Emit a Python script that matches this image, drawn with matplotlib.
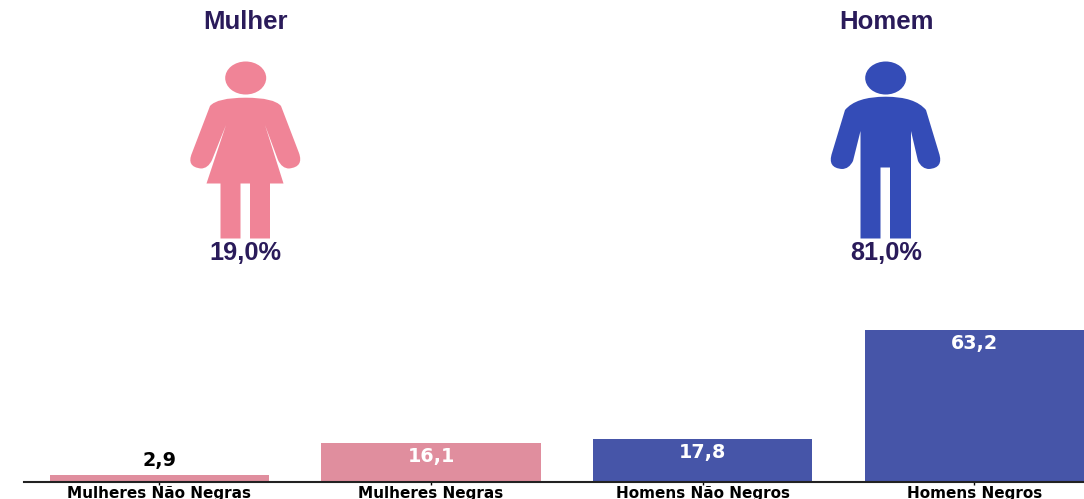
import matplotlib
matplotlib.use("Agg")
import matplotlib.pyplot as plt
import numpy as np
from matplotlib.patches import Ellipse, PathPatch
from matplotlib.path import Path

categorias = ['Mulheres Não Negras', 'Mulheres Negras', 'Homens Não Negros', 'Homens Negros']
valores = [2.9, 16.1, 17.8, 63.2]
rotulos = ['2,9', '16,1', '17,8', '63,2']
generos = ['Mulher', 'Homem']
percentuais = ['19,0%', '81,0%']

cor_mulher = '#E08E9E'
cor_homem = '#4655A8'
cor_icone_mulher = '#F08497'
cor_icone_homem = '#344CB7'
cor_texto = '#2A1B5A'

M, L, Q, Z = Path.MOVETO, Path.LINETO, Path.CURVE3, Path.CLOSEPOLY

# contornos dos icones, em px relativos ao canto esquerdo do recorte
icone_mulher = [
    (M, 75.7, 97.7), (Q, 104, 97.7), (Q, 111, 106), (L, 129, 153), (Q, 134, 167), (Q, 119, 168.5),
    (Q, 112, 168.5), (Q, 108, 160), (L, 95, 125), (L, 113.5, 183.5), (L, 100, 183.5), (L, 100, 238.5),
    (L, 80, 238.5), (L, 80, 183.5), (L, 70.5, 183.5), (L, 70.5, 238.5), (L, 50.5, 238.5), (L, 50.5, 183.5),
    (L, 36.5, 183.5), (L, 56, 125), (L, 42, 160), (Q, 38, 168.5), (Q, 31, 168.5), (Q, 16, 167), (Q, 22, 153),
    (L, 40, 106), (Q, 47, 97.7), (Q, 75.7, 97.7), (Z, 75.7, 97.7),
]
icone_homem = [
    (M, 75.7, 96.7), (Q, 105, 96.7), (Q, 116, 110), (L, 129, 153), (Q, 134, 168), (Q, 119, 169),
    (Q, 112, 169), (Q, 108, 161), (L, 101, 131), (L, 101, 238.5), (L, 80, 238.5), (L, 80, 167.5),
    (L, 70.5, 167.5), (L, 70.5, 238.5), (L, 50.5, 238.5), (L, 50.5, 131), (L, 43, 161), (Q, 39, 169),
    (Q, 32, 169), (Q, 17, 168), (Q, 22, 153), (L, 35, 110), (Q, 46, 96.7), (Q, 75.7, 96.7), (Z, 75.7, 96.7),
]


def desenha_icone(ax, contorno, x0, cor):
    codes = [c[0] for c in contorno]
    verts = [(c[1] + x0, c[2]) for c in contorno]
    ax.add_patch(PathPatch(Path(verts, codes), facecolor=cor, edgecolor='none'))
    ax.add_patch(Ellipse((x0 + 75.7, 78), 41, 33, facecolor=cor, edgecolor='none'))


fig = plt.figure(figsize=(10.84, 4.99), dpi=100)

# eixo das barras: linha de base em y=482 px, de x=24 px ate a borda
ax = fig.add_axes([24 / 1084, (499 - 482) / 499, 1060 / 1084, 160 / 499])
x = np.arange(len(categorias))
cores = [cor_mulher, cor_mulher, cor_homem, cor_homem]
ax.bar(x, valores, width=0.807, color=cores)
ax.set_xlim(-0.4985, 3.404)
ax.set_ylim(0, 160 / 2.405)

for i, v in enumerate(valores):
    if v < 5:
        ax.annotate(rotulos[i], (i, v), xytext=(0, 10.5), textcoords='offset points', ha='center',
                    va='center', fontsize=13.8, weight='bold', color='black')
    else:
        ax.annotate(rotulos[i], (i, v), xytext=(0, -9.5), textcoords='offset points', ha='center',
                    va='center', fontsize=13.8, weight='bold', color='white')

ax.set_xticks(x)
ax.set_xticklabels(categorias, fontsize=11, weight='bold')
ax.tick_params(axis='x', length=2.5, width=1, pad=0.3)
ax.set_yticks([])
ax.spines['top'].set_visible(False)
ax.spines['right'].set_visible(False)
ax.spines['left'].set_visible(False)
ax.spines['bottom'].set_linewidth(1.5)
ax.spines['bottom'].set_color('#222222')

# icones e textos de cima, em coordenadas de pixel
top = fig.add_axes([0, 0, 1, 1], zorder=3)
top.set_xlim(0, 1084)
top.set_ylim(499, 0)
top.axis('off')
desenha_icone(top, icone_mulher, 170, cor_icone_mulher)
desenha_icone(top, icone_homem, 810, cor_icone_homem)

for cx, g, p in zip([245.5, 886.5], generos, percentuais):
    top.text(cx, 22, g, ha='center', va='center', fontsize=18.5, weight='bold', family='Liberation Sans', color=cor_texto)
    top.text(cx, 253, p, ha='center', va='center', fontsize=18.3, weight='bold', family='Liberation Sans', color=cor_texto)

fig.savefig('out.png', dpi=100)
